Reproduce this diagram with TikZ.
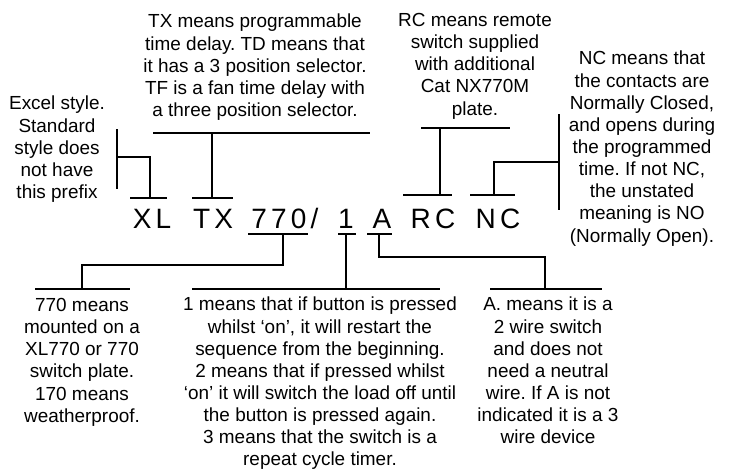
\documentclass[tikz,border=0pt]{standalone}
\usepackage{fontspec}
\setmainfont{Liberation Sans}
\newfontfamily\codefont{Liberation Sans}[LetterSpace=15]
\frenchspacing
\begin{document}
\begin{tikzpicture}[x=0.75pt,y=0.75pt,yscale=-1,xscale=1,
  note/.style={align=center,anchor=north,inner sep=0pt,font=\fontsize{14.2}{16.6}\selectfont},
  code/.style={anchor=base,inner sep=0pt,font=\codefont\fontsize{21}{25}\selectfont},
  lead/.style={line width=0.9pt}]
\useasboundingbox (0,0) rectangle (730,469);

% Text Node
\node[note] (excel) at (57,96) {Excel style.\\Standard\\style does\\not have\\this prefix};
% Text Node
\node[note] (txnote) at (255,14) {TX means programmable\\time delay. TD means that\\it has a 3 position selector.\\TF is a fan time delay with\\a three position selector.};
% Text Node
\node[note] (rcnote) at (475,13) {RC means remote\\switch supplied\\with additional\\Cat NX770M\\plate.};
% Text Node
\node[note] (ncnote) at (642,51) {NC means that\\the contacts are\\Normally Closed,\\and opens during\\the programmed\\time. If not NC,\\the unstated\\meaning is NO\\(Normally Open).};
% Text Node
\node[note] (platenote) at (82,298) {770 means\\mounted on a\\XL770 or 770\\switch plate.\\170 means\\weatherproof.};
% Text Node
\node[note] (onenote) at (320,297) {1 means that if button is pressed\\whilst `on', it will restart the\\sequence from the beginning.\\2 means that if pressed whilst\\`on' it will switch the load off until\\the button is pressed again.\\3 means that the switch is a\\repeat cycle timer.};
% Text Node
\node[note] (anote) at (548,297) {A. means it is a\\2 wire switch\\and does not\\need a neutral\\wire. If A is not\\indicated it is a 3\\wire device};

% Code letters
\node[code] (xl) at (152,228) {XL};
\node[code] (tx) at (213,228) {TX};
\node[code] (plate) at (285,228) {770/};
\node[code] (one) at (346,228) {1};
\node[code] (a) at (382,228) {A};
\node[code] (rc) at (433,228) {RC};
\node[code] (nc) at (498,228) {NC};

% Junctions
\coordinate (xlstem) at (150,198);
\coordinate (exbend) at (117,157);
\coordinate (txstem) at (212,133);
\coordinate (txfoot) at (212,198);
\coordinate (rcstem) at (440,128);
\coordinate (rcfoot) at (440,195);
\coordinate (ncstem) at (494,195);
\coordinate (ncbend) at (559,162);
\coordinate (platestem) at (283,234);
\coordinate (platebend) at (82,265);
\coordinate (platefoot) at (82,289);
\coordinate (onestem) at (346,234);
\coordinate (onefoot) at (346,289);
\coordinate (astem) at (379,234);
\coordinate (abend) at (545,257);
\coordinate (afoot) at (545,289);

%Straight Lines XL
\draw[lead] (130,198) -- (167,198);
\draw[lead] (xlstem) |- (exbend);
\draw[lead] (117,129) -- (117,189);
%Straight Lines TX
\draw[lead] (153,133) -- (370,133);
\draw[lead] (192,198) -- (233,198);
\draw[lead] (txstem) -- (txfoot);
%Straight Lines RC
\draw[lead] (421,128) -- (510,128);
\draw[lead] (403,195) -- (452,195);
\draw[lead] (rcstem) -- (rcfoot);
%Straight Lines NC
\draw[lead] (470,195) -- (515,195);
\draw[lead] (ncstem) |- (ncbend);
\draw[lead] (559,114) -- (559,210);
%Straight Lines 770
\draw[lead] (248,234) -- (308,234);
\draw[lead] (platestem) |- (platebend) -- (platefoot);
\draw[lead] (35,289) -- (130,289);
%Straight Lines 1
\draw[lead] (338,234) -- (356,234);
\draw[lead] (onestem) -- (onefoot);
\draw[lead] (192,289) -- (440,289);
%Straight Lines A
\draw[lead] (367,234) -- (392,234);
\draw[lead] (astem) |- (abend) -- (afoot);
\draw[lead] (490,289) -- (602,289);

\end{tikzpicture}
\end{document}
